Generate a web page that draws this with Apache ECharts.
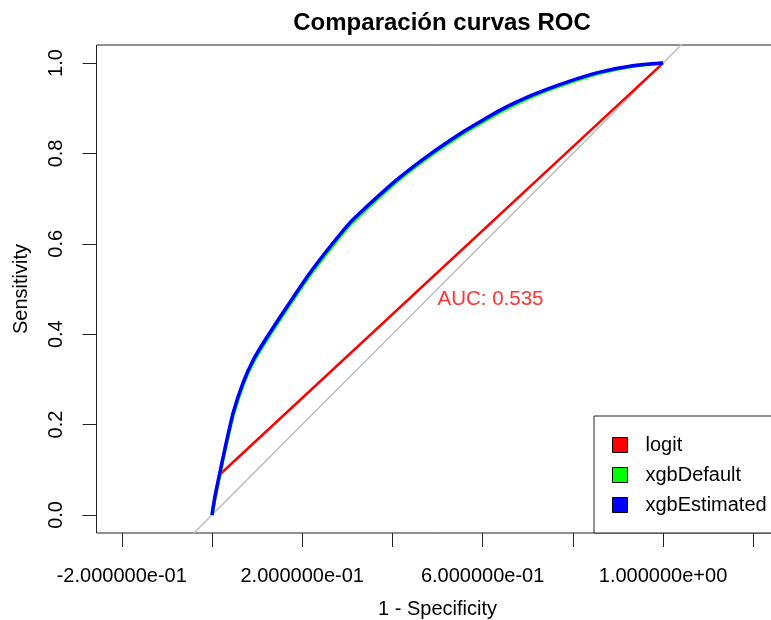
<!DOCTYPE html>
<html>
<head>
<meta charset="utf-8">
<script src="https://cdn.jsdelivr.net/npm/echarts@6/dist/echarts.min.js"></script>
<style>
html,body{margin:0;padding:0;background:#fff;}
#chart{width:771px;height:620px;}
</style>
</head>
<body>
<div id="chart"></div>
<script>
// ---- data ----
var xgbEstimatedFpr = [0, 0.007, 0.018, 0.029, 0.047, 0.069, 0.092, 0.121, 0.151, 0.177, 0.219, 0.262, 0.306, 0.335, 0.410, 0.483, 0.557, 0.601, 0.639, 0.712, 0.787, 0.860, 0.933, 1.0];
var xgbEstimatedTpr = [0, 0.043, 0.096, 0.148, 0.226, 0.293, 0.344, 0.392, 0.438, 0.477, 0.538, 0.594, 0.647, 0.675, 0.742, 0.798, 0.848, 0.874, 0.896, 0.930, 0.958, 0.980, 0.994, 1.0];
var xgbDefaultFpr = [0, 0.007, 0.018, 0.029, 0.047, 0.069, 0.092, 0.121, 0.151, 0.177, 0.219, 0.262, 0.306, 0.335, 0.410, 0.483, 0.557, 0.601, 0.639, 0.712, 0.787, 0.860, 0.933, 1.0];
var xgbDefaultTpr = [0, 0.041, 0.093, 0.144, 0.221, 0.288, 0.339, 0.387, 0.433, 0.472, 0.533, 0.589, 0.642, 0.670, 0.738, 0.794, 0.844, 0.870, 0.892, 0.927, 0.955, 0.978, 0.993, 1.0];
var logitFpr = [0, 0.018, 1.0];
var logitTpr = [0, 0.090, 1.0];
var diagonalX = [-1, 2];
var diagonalY = [-1, 2];
var aucText = 'AUC: 0.535';
var aucPos = [0.5, 0.5];

var xTickValues = [-0.2, 0, 0.2, 0.4, 0.6, 0.8, 1.0, 1.2];
var xLabelValues = [-0.2, 0.2, 0.6, 1.0];
var yTickValues = [0, 0.2, 0.4, 0.6, 0.8, 1.0];
var seriesNames = ['logit', 'xgbDefault', 'xgbEstimated'];
var seriesColors = ['#ff0000', '#00ff00', '#0000ff'];

function zip(a, b) { return a.map(function (v, i) { return [v, b[i]]; }); }
function rExp(v) {
  var s = Number(v).toExponential(6);
  return s.replace(/e([+-])(\d)$/, 'e$10$2');
}

var FONT = '"Liberation Sans", Arial, Helvetica, sans-serif';
var chart = echarts.init(document.getElementById('chart'), null, {renderer: 'canvas'});
chart.setOption({
  animation: false,
  backgroundColor: '#ffffff',
  textStyle: {fontFamily: FONT, color: '#000'},
  title: {
    text: 'Comparación curvas ROC',
    left: 437, top: 6, textAlign: 'center',
    textStyle: {fontFamily: FONT, fontSize: 24, fontWeight: 'bold', color: '#000'}
  },
  grid: {
    left: 96.5, width: 682, top: 45, bottom: 87,
    outerBoundsMode: 'none',
    show: true, borderColor: '#222', borderWidth: 1, backgroundColor: 'transparent',
    containLabel: false
  },
  xAxis: {
    type: 'value', min: -0.256, max: 1.256,
    name: '1 - Specificity', nameLocation: 'middle', nameGap: 66,
    nameTextStyle: {fontFamily: FONT, fontSize: 20, color: '#000'},
    axisLine: {show: false, onZero: false},
    splitLine: {show: false},
    axisTick: {show: true, length: 14, customValues: xTickValues, lineStyle: {color: '#222', width: 1}},
    axisLabel: {show: true, customValues: xLabelValues, margin: 33, fontFamily: FONT, fontSize: 20, color: '#000',
      formatter: function (v) { return rExp(v); }}
  },
  yAxis: {
    type: 'value', min: -0.04, max: 1.04,
    name: 'Sensitivity', nameLocation: 'middle', nameGap: 65,
    nameTextStyle: {fontFamily: FONT, fontSize: 20, color: '#000'},
    axisLine: {show: false, onZero: false},
    splitLine: {show: false},
    axisTick: {show: true, length: 14, customValues: yTickValues, lineStyle: {color: '#222', width: 1}},
    axisLabel: {show: true, customValues: yTickValues, rotate: 90, margin: 30, fontFamily: FONT, fontSize: 20, color: '#000',
      formatter: function (v) { return v.toFixed(1); }}
  },
  legend: {
    data: seriesNames,
    orient: 'vertical', left: 594, top: 416,
    icon: 'rect', itemWidth: 15, itemHeight: 15, itemGap: 10,
    padding: [19, 60, 18, 18],
    borderColor: '#222', borderWidth: 1, backgroundColor: '#fff',
    selectedMode: false,
    itemStyle: {borderColor: '#000', borderWidth: 1},
    textStyle: {fontFamily: FONT, fontSize: 20, color: '#000', padding: [0, 0, 0, 13]}
  },
  series: [
    {
      type: 'line', name: 'diagonal', data: zip(diagonalX, diagonalY),
      showSymbol: false, symbol: 'none', silent: true, clip: true,
      lineStyle: {color: '#bebebe', width: 1.5}, z: 1
    },
    {
      type: 'line', name: 'logit', data: zip(logitFpr, logitTpr),
      showSymbol: false, symbol: 'none', clip: true, color: seriesColors[0],
      lineStyle: {color: seriesColors[0], width: 2.5}, z: 2
    },
    {
      type: 'line', name: 'xgbDefault', data: zip(xgbDefaultFpr, xgbDefaultTpr),
      showSymbol: false, symbol: 'none', smooth: 0.2, clip: true, color: seriesColors[1],
      lineStyle: {color: seriesColors[1], width: 3.5, join: 'round'}, z: 3
    },
    {
      type: 'line', name: 'xgbEstimated', data: zip(xgbEstimatedFpr, xgbEstimatedTpr),
      showSymbol: false, symbol: 'none', smooth: 0.2, clip: true, color: seriesColors[2],
      lineStyle: {color: seriesColors[2], width: 3.5, join: 'round'}, z: 4
    },
    {
      type: 'scatter', name: 'auc', data: [aucPos], symbolSize: 0, silent: true, z: 5,
      label: {show: true, formatter: aucText, position: [0, 0], align: 'left', verticalAlign: 'top',
        fontFamily: FONT, fontSize: 20.5, color: '#ff0000'}
    }
  ]
});
</script>
</body>
</html>
